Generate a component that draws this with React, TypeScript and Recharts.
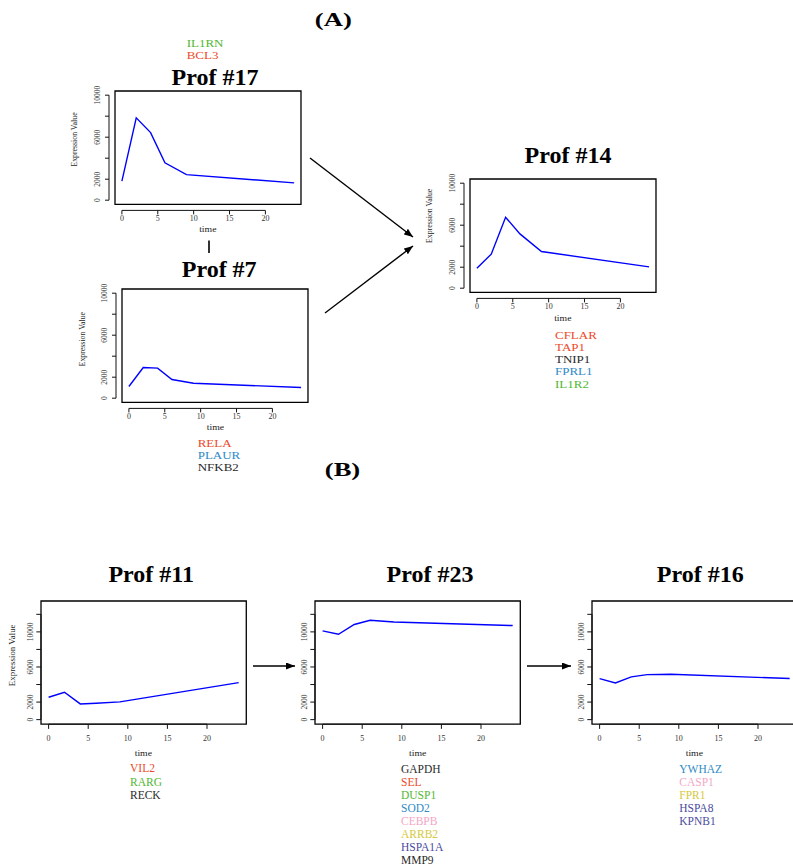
import React from 'react';
import { LineChart, Line, XAxis, YAxis, ReferenceLine, ReferenceArea } from 'recharts';

// ---------- data ----------
const timePoints = [0, 2, 4, 6, 9, 24];
const prof17 = [1810, 7840, 6440, 3560, 2440, 1650];
const prof7 = [1110, 2920, 2860, 1780, 1430, 1020];
const prof14 = [1900, 3240, 6760, 5170, 3490, 2030];
const prof11 = [2550, 3120, 1790, 1870, 2020, 4220];
const prof23 = [10110, 9730, 10840, 11330, 11120, 10720];
const prof16 = [4680, 4180, 4870, 5130, 5170, 4680];

const xTicks = [0, 5, 10, 15, 20];
const yTicksTop = [0, 2000, 4000, 6000, 8000, 10000];
const yTicksBottom = [0, 2000, 4000, 6000, 8000, 10000, 12000];
const yLabeledTicks = [0, 2000, 6000, 10000];

const RED = '#ec4a2c';
const GREEN = '#52b832';
const BLUE = '#2f8ac6';
const PINK = '#f5a6c6';
const YELLOW = '#d6c93c';
const NAVY = '#4a4a9e';
const BLACK = '#2a2a2a';

const genes17 = [['IL1RN', GREEN], ['BCL3', RED]];
const genes7 = [['RELA', RED], ['PLAUR', BLUE], ['NFKB2', BLACK]];
const genes14 = [['CFLAR', RED], ['TAP1', RED], ['TNIP1', BLACK], ['FPRL1', BLUE], ['IL1R2', GREEN]];
const genes11 = [['VIL2', RED], ['RARG', GREEN], ['RECK', BLACK]];
const genes23 = [['GAPDH', BLACK], ['SEL', RED], ['DUSP1', GREEN], ['SOD2', BLUE], ['CEBPB', PINK], ['ARRB2', YELLOW], ['HSPA1A', NAVY], ['MMP9', BLACK]];
const genes16 = [['YWHAZ', BLUE], ['CASP1', PINK], ['FPR1', YELLOW], ['HSPA8', NAVY], ['KPNB1', NAVY]];

// ---------- layout ----------
const FONT = '"Liberation Serif", "Times New Roman", Times, serif';
const X_DOM = [-0.96, 24.96];
const Y_TOP = [-400, 10400];
const Y_BOT = [-520, 13520];
const ML = 60, MR = 5, MT = 5, MB = 40;

const topStyle = { axisOff: 6, tickLen: 4, yLabOff: -18, xLabOff: 14, timeOff: 25.5, ylabDx: -40, ylabSize: 7.8, geneSize: 10, geneSx: 1.3 };
const botStyle = { axisOff: 0, tickLen: 4.7, yLabOff: -10.7, xLabOff: 14.3, timeOff: 30, ylabDx: -28.4, ylabSize: 8.9, geneSize: 11.5, geneSx: 1.0 };

const panels = [
  { key: 'p17', title: 'Prof #17', values: prof17, genes: genes17, box: { x: 114.8, y: 90.8, w: 186, h: 113.4 }, yDomain: Y_TOP, yTicks: yTicksTop, st: topStyle, ylab: -8, tcx: 215, tbase: 85, gx: 186.7, gbase: 47.3, gstep: 11.4 },
  { key: 'p7', title: 'Prof #7', values: prof7, genes: genes7, box: { x: 122.4, y: 288.5, w: 186, h: 113.4 }, yDomain: Y_TOP, yTicks: yTicksTop, st: topStyle, ylab: -6, tcx: 219.2, tbase: 276.7, gx: 197.7, gbase: 446.7, gstep: 12.3 },
  { key: 'p14', title: 'Prof #14', values: prof14, genes: genes14, box: { x: 469.8, y: 179.1, w: 186, h: 113.4 }, yDomain: Y_TOP, yTicks: yTicksTop, st: topStyle, ylab: -20, tcx: 568, tbase: 163.3, gx: 555, gbase: 338.7, gstep: 12.2 },
  { key: 'p11', title: 'Prof #11', values: prof11, genes: genes11, box: { x: 40.7, y: 600.7, w: 205.3, h: 123.2 }, yDomain: Y_BOT, yTicks: yTicksBottom, st: botStyle, ylab: -7, tcx: 151.2, tbase: 581.7, gx: 130, gbase: 772.3, gstep: 13.3 },
  { key: 'p23', title: 'Prof #23', values: prof23, genes: genes23, box: { x: 315.1, y: 600.7, w: 205.3, h: 123.2 }, yDomain: Y_BOT, yTicks: yTicksBottom, st: botStyle, ylab: null, tcx: 430, tbase: 581.7, gx: 401, gbase: 772.7, gstep: 13.1 },
  { key: 'p16', title: 'Prof #16', values: prof16, genes: genes16, box: { x: 591.7, y: 600.7, w: 205.3, h: 123.2 }, yDomain: Y_BOT, yTicks: yTicksBottom, st: botStyle, ylab: null, tcx: 700.3, tbase: 581.7, gx: 679.3, gbase: 772.7, gstep: 13.1 },
];

function YTick(props: any) {
  const { x, y, payload, st } = props;
  const ax = x - st.axisOff;
  const show = yLabeledTicks.includes(payload.value);
  return (
    <g>
      <line x1={ax - st.tickLen} x2={ax} y1={y} y2={y} stroke="#111" strokeWidth={1} />
      {show && (
        <text transform={`translate(${x + st.yLabOff},${y}) rotate(-90)`} textAnchor="middle" dominantBaseline="central" fontSize={7.5} fontFamily={FONT} fill="#333">
          {payload.value}
        </text>
      )}
    </g>
  );
}

function XTick(props: any) {
  const { x, y, payload, st } = props;
  const ay = y + st.axisOff;
  return (
    <g>
      <line x1={x} x2={x} y1={ay} y2={ay + st.tickLen} stroke="#111" strokeWidth={1} />
      <text x={x} y={y + st.xLabOff} textAnchor="middle" dominantBaseline="central" fontSize={8} fontFamily={FONT} fill="#333">
        {payload.value}
      </text>
    </g>
  );
}

function Panel({ p }: any) {
  const data = timePoints.map((t, i) => ({ t, v: p.values[i] }));
  const W = p.box.w + ML + MR;
  const H = p.box.h + MT + MB;
  const st = p.st;
  return (
    <div style={{ position: 'absolute', left: p.box.x - ML, top: p.box.y - MT, width: W, height: H }}>
      <LineChart width={W} height={H} data={data} margin={{ top: MT, right: MR, left: 0, bottom: 0 }}>
        <XAxis type="number" dataKey="t" domain={X_DOM} allowDataOverflow ticks={xTicks} interval={0}
          axisLine={false} tickLine={false} tickSize={0} tickMargin={0} height={MB}
          tick={(tp: any) => <XTick {...tp} st={st} />} />
        <YAxis type="number" domain={p.yDomain} allowDataOverflow ticks={p.yTicks} interval={0}
          axisLine={false} tickLine={false} tickSize={0} tickMargin={0} width={ML}
          tick={(tp: any) => <YTick {...tp} st={st} />} />
        <ReferenceArea x1={X_DOM[0]} x2={X_DOM[1]} y1={p.yDomain[0]} y2={p.yDomain[1]} fill="none" fillOpacity={0} stroke="#000" strokeWidth={1.3} ifOverflow="visible" />
        <ReferenceLine ifOverflow="visible"
          segment={[{ x: X_DOM[0], y: p.yTicks[0] }, { x: X_DOM[0], y: p.yTicks[p.yTicks.length - 1] }]}
          shape={(lp: any) => <line x1={lp.x1 - st.axisOff} y1={lp.y1} x2={lp.x2 - st.axisOff} y2={lp.y2} stroke="#111" strokeWidth={1} />} />
        <ReferenceLine ifOverflow="visible"
          segment={[{ x: xTicks[0], y: p.yDomain[0] }, { x: xTicks[xTicks.length - 1], y: p.yDomain[0] }]}
          shape={(lp: any) => <line x1={lp.x1} y1={lp.y1 + st.axisOff} x2={lp.x2} y2={lp.y2 + st.axisOff} stroke="#111" strokeWidth={1} />} />
        <Line type="linear" dataKey="v" stroke="#0000ff" strokeWidth={1.4} dot={false} isAnimationActive={false} />
      </LineChart>
    </div>
  );
}

function PanelText({ p }: any) {
  const st = p.st;
  const b = p.box;
  const cx = b.x + b.w / 2;
  const cy = b.y + b.h / 2;
  return (
    <g fontFamily={FONT}>
      <text x={p.tcx} y={p.tbase} textAnchor="middle" fontSize={24} fontWeight="bold" fill="#000">{p.title}</text>
      <text transform={`translate(${cx},${b.y + b.h + st.timeOff}) scale(1.3,1)`} textAnchor="middle" dominantBaseline="central" fontSize={7.5} fill="#222">time</text>
      {p.ylab !== null && (
        <text transform={`translate(${b.x + st.ylabDx},${cy + p.ylab}) rotate(-90)`} textAnchor="middle" dominantBaseline="central" fontSize={st.ylabSize} fill="#222">Expression Value</text>
      )}
      {p.genes.map((g: any, i: number) => (
        <text key={g[0]} transform={`translate(${p.gx},${p.gbase + i * p.gstep}) scale(${st.geneSx},1)`} fontSize={st.geneSize} fill={g[1]}>{g[0]}</text>
      ))}
    </g>
  );
}

function Overlay() {
  return (
    <svg width={793} height={868} style={{ position: 'absolute', left: 0, top: 0, pointerEvents: 'none' }}>
      <defs>
        <marker id="ah" markerWidth={9} markerHeight={7} refX={9} refY={3.5} orient="auto" markerUnits="userSpaceOnUse">
          <path d="M0,0 L9,3.5 L0,7 z" fill="#000" />
        </marker>
      </defs>
      <text transform="translate(333.3,26) scale(1.4,1)" textAnchor="middle" fontSize={19} fontWeight="bold" fontFamily={FONT}>(A)</text>
      <text transform="translate(342.5,475.5) scale(1.4,1)" textAnchor="middle" fontSize={19} fontWeight="bold" fontFamily={FONT}>(B)</text>
      <line x1={310} y1={158} x2={413} y2={237} stroke="#000" strokeWidth={1.4} markerEnd="url(#ah)" />
      <line x1={325} y1={313} x2={413} y2={246} stroke="#000" strokeWidth={1.4} markerEnd="url(#ah)" />
      <line x1={253} y1={666} x2={295} y2={666} stroke="#000" strokeWidth={1.3} markerEnd="url(#ah)" />
      <line x1={527} y1={666} x2={571} y2={666} stroke="#000" strokeWidth={1.3} markerEnd="url(#ah)" />
      <line x1={209} y1={240.5} x2={209} y2={253} stroke="#000" strokeWidth={1.6} />
      {panels.map((p) => <PanelText key={p.key} p={p} />)}
    </svg>
  );
}

export default function App() {
  return (
    <div style={{ position: 'absolute', left: 0, top: 0, width: 793, height: 868, overflow: 'hidden', background: '#fff' }}>
      {panels.map((p) => <Panel key={p.key} p={p} />)}
      <Overlay />
    </div>
  );
}
